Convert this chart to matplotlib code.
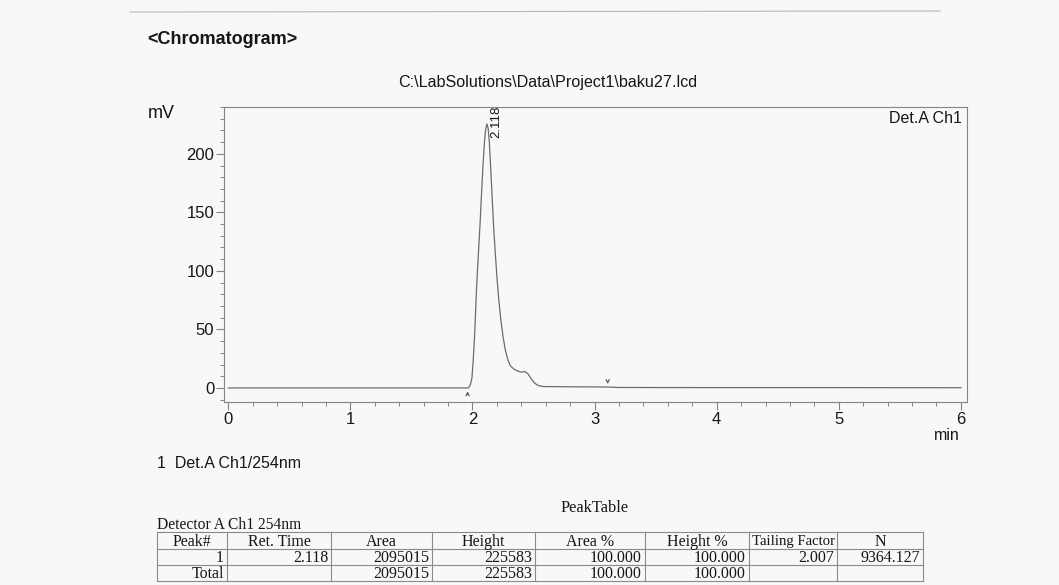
import numpy as np
import matplotlib.pyplot as plt
from matplotlib.ticker import MultipleLocator

plt.rcParams['font.family'] = ['Liberation Sans', 'DejaVu Sans']

# detector signal (min, mV)
time_min = [0.00, 1.00, 1.90, 1.965, 1.980, 1.995, 2.005, 2.018, 2.032, 2.047,
            2.062, 2.075, 2.087, 2.098, 2.108, 2.118, 2.128, 2.138, 2.148, 2.160,
            2.172, 2.185, 2.200, 2.215, 2.230, 2.250, 2.270, 2.290, 2.310, 2.340,
            2.370, 2.400, 2.430, 2.455, 2.480, 2.510, 2.540, 2.580, 2.800, 3.100,
            3.200, 4.000, 5.000, 6.000]
signal_mv = [0.0, 0.0, 0.0, 0.0, 2.0, 8.0, 22.0, 46.0, 82.0, 112.0,
             140.0, 168.0, 192.0, 210.0, 221.0, 225.583, 222.0, 210.0, 190.0, 165.0,
             140.0, 118.0, 95.0, 76.0, 60.0, 44.0, 32.0, 24.0, 19.0, 16.0,
             14.5, 13.5, 14.0, 12.0, 8.0, 4.0, 2.0, 1.2, 1.0, 0.8,
             0.4, 0.3, 0.3, 0.2]

peak_rt = 2.118
peak_height_mv = 225.583
peak_start = 1.96
peak_end = 3.107

columns = ['Peak#', 'Ret. Time', 'Area', 'Height', 'Area %', 'Height %',
           'Tailing Factor', 'N']
row_peak = ['1', '2.118', '2095015', '225583', '100.000', '100.000', '2.007', '9364.127']
row_total = ['Total', '', '2095015', '225583', '100.000', '100.000', '', '']

W, H = 1059, 585
fig = plt.figure(figsize=(W / 100, H / 100), dpi=100, facecolor='#f8f8f6')

# page overlay in pixel coordinates for headings and the peak table
page = fig.add_axes([0, 0, 1, 1])
page.set_xlim(0, W)
page.set_ylim(H, 0)
page.axis('off')

ink = '#161616'
grey = '#858585'

ax = fig.add_axes([224 / W, 1 - 402 / H, 743 / W, 295 / H])
ax.set_facecolor('none')
ax.plot(time_min, signal_mv, color='#6c6c6c', lw=0.9)
ax.set_xlim(-0.035, 6.05)
ax.set_ylim(-12, 240)

ax.xaxis.set_major_locator(MultipleLocator(1))
ax.xaxis.set_minor_locator(MultipleLocator(0.2))
ax.yaxis.set_major_locator(MultipleLocator(50))
ax.yaxis.set_minor_locator(MultipleLocator(10))
ax.tick_params(which='both', direction='out', colors=grey, labelcolor=ink,
               labelsize=12)
ax.tick_params(which='major', length=6, width=0.8)
ax.tick_params(which='minor', length=3, width=0.7)
ax.tick_params(axis='x', pad=1)
ax.tick_params(axis='y', pad=1)
for s in ax.spines.values():
    s.set_color(grey)
    s.set_linewidth(0.8)

# integration start / end marks
ax.annotate('', xy=(peak_start, -0.5), xytext=(peak_start, -8),
            arrowprops=dict(arrowstyle='->', color='#555555', lw=0.8,
                            mutation_scale=6))
ax.annotate('', xy=(peak_end, 1.0), xytext=(peak_end, 8),
            arrowprops=dict(arrowstyle='->', color='#555555', lw=0.8,
                            mutation_scale=6))

ax.text(peak_rt + 0.075, peak_height_mv - 12, f'{peak_rt:.3f}', rotation=90,
        ha='center', va='bottom', fontsize=9.5, color=ink)
ax.text(0.993, 0.985, 'Det.A Ch1', transform=ax.transAxes, ha='right',
        va='top', fontsize=11.5, color=ink)
ax.text(0.99, -0.088, 'min', transform=ax.transAxes, ha='right', va='top',
        fontsize=11.5, color=ink)

# headings
page.plot([130, 940], [12, 11], color='#b8b8b8', lw=0.8)
page.text(147, 40, '<Chromatogram>', fontsize=13, fontweight='bold',
          color=ink, va='center', ha='left')
page.text(548, 82, r'C:\LabSolutions\Data\Project1\baku27.lcd', fontsize=11.6,
          color=ink, va='center', ha='center')
page.text(148, 113, 'mV', fontsize=13, color=ink, va='center', ha='left')
page.text(157, 463, '1  Det.A Ch1/254nm', fontsize=11.5, color=ink,
          va='center', ha='left')

# peak table
serif = ['Liberation Serif', 'DejaVu Serif']
page.text(595, 508, 'PeakTable', fontsize=11.8, family=serif, color=ink,
          ha='center', va='center')
page.text(157, 525, 'Detector A Ch1 254nm', fontsize=11.2, family=serif,
          color=ink, ha='left', va='center')

col_edges = [157, 227, 331, 432, 535, 645, 749, 837, 923]
row_edges = [532, 549, 565, 581]
line_col = '#8a8a8a'
for y in row_edges:
    page.plot([col_edges[0], col_edges[-1]], [y, y], color=line_col, lw=0.8)
for x in col_edges:
    page.plot([x, x], [row_edges[0], row_edges[-1]], color=line_col, lw=0.8)

for i, name in enumerate(columns):
    xc = (col_edges[i] + col_edges[i + 1]) / 2
    size = 10.6 if len(name) > 10 else 11.5
    page.text(xc, (row_edges[0] + row_edges[1]) / 2 + 1, name, fontsize=size,
              family=serif, color=ink, ha='center', va='center')
for r, row in enumerate([row_peak, row_total]):
    yc = (row_edges[r + 1] + row_edges[r + 2]) / 2 + 1
    for i, val in enumerate(row):
        if val:
            page.text(col_edges[i + 1] - 3, yc, val, fontsize=11.5,
                      family=serif, color=ink, ha='right', va='center')

fig.savefig('out.png', dpi=100, facecolor=fig.get_facecolor())
